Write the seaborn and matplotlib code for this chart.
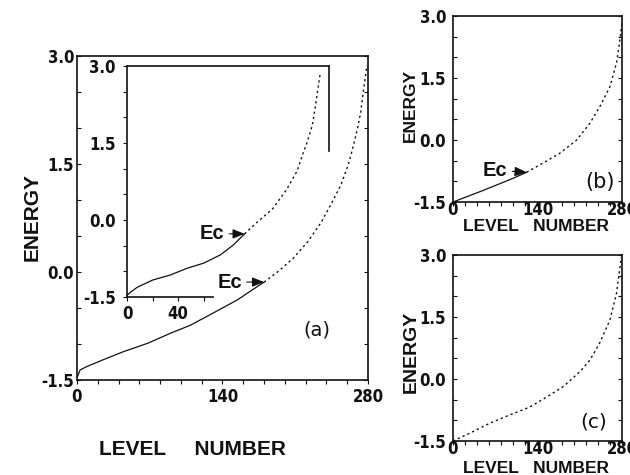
import matplotlib
matplotlib.use("Agg")
import matplotlib.pyplot as plt
import seaborn as sns
import pandas as pd
from matplotlib.ticker import MultipleLocator, FixedLocator

# (a) main spectrum: level number vs energy
levels_a = [0, 3, 10, 25, 44, 68, 90, 109, 131, 154, 180, 193, 208, 222, 235, 244, 254, 261, 265, 270, 273, 276, 279]
energy_a = [-1.47, -1.36, -1.31, -1.22, -1.11, -0.99, -0.85, -0.74, -0.57, -0.39, -0.14, 0.0, 0.19, 0.42,
            0.69, 0.93, 1.21, 1.49, 1.70, 2.00, 2.22, 2.56, 2.87]
# (a) inset spectrum
levels_in = [0, 2, 8, 20, 34, 47, 60, 73, 83, 92, 101, 114, 125, 133, 137, 141, 145, 147, 149, 151]
energy_in = [-1.47, -1.42, -1.31, -1.17, -1.07, -0.94, -0.84, -0.68, -0.49, -0.27, -0.06, 0.22, 0.60, 0.95,
             1.25, 1.52, 1.85, 2.15, 2.50, 2.83]
# (b)
levels_b = [0, 50, 99, 122, 149, 177, 205, 227, 243, 260, 271, 276, 280]
energy_b = [-1.5, -1.22, -0.93, -0.78, -0.56, -0.32, 0.0, 0.41, 0.80, 1.29, 1.87, 2.36, 2.85]
# (c)
levels_c = [0, 28, 61, 94, 127, 155, 182, 197, 213, 227, 243, 260, 271, 276, 279]
energy_c = [-1.5, -1.31, -1.07, -0.87, -0.68, -0.44, -0.19, 0.0, 0.22, 0.46, 0.87, 1.43, 2.08, 2.64, 2.95]

# mobility edge Ec (level numbers, taken from the lists above)
ec_a = 180
ec_in = 92
ec_b = 122

energy_ticks = [-1.5, 0.0, 1.5, 3.0]
energy_ticklabels = ["-1.5", "0.0", "1.5", "3.0"]
level_ticks = [0, 140, 280]
inset_level_ticks = [0, 40]

sns.set_style("ticks")
plt.rcParams["font.family"] = ["DejaVu Sans Condensed", "DejaVu Sans"]
plt.rcParams["font.stretch"] = "condensed"
plt.rcParams["font.weight"] = "bold"

label_font = "Liberation Sans"
ink = "#111111"


def draw_curve(ax, levels, energy, split):
    # dense levels look like a solid line, sparse ones like a row of dashes
    df = pd.DataFrame({"level": levels, "energy": energy})
    if split > 0:
        sns.lineplot(data=df[df["level"] <= split], x="level", y="energy", ax=ax,
                     color=ink, lw=0.9, estimator=None, sort=True)
    sns.lineplot(data=df[df["level"] >= split], x="level", y="energy", ax=ax,
                 color=ink, lw=1.0, linestyle=(0, (1.6, 2.2)), estimator=None, sort=True)


def style_axes(ax, xmax, xticks, ylab_pad=2, xlab_pad=3, ydir="in"):
    ax.set_xlim(0, xmax)
    ax.set_ylim(-1.5, 3.0)
    ax.set_xticks(xticks, [str(t) for t in xticks])
    ax.set_yticks(energy_ticks, energy_ticklabels)
    ax.xaxis.set_minor_locator(MultipleLocator(20))
    ax.yaxis.set_minor_locator(MultipleLocator(0.5))
    ax.tick_params(axis="x", which="both", direction="out", length=3, width=0.8, pad=xlab_pad,
                   labelsize=12, colors=ink)
    ax.tick_params(axis="y", which="both", direction=ydir, length=3, width=0.8, pad=ylab_pad,
                   labelsize=12, colors=ink, right=(ydir == "in"))
    for s in ax.spines.values():
        s.set_linewidth(1.2)
        s.set_color(ink)
    ax.set_xlabel("")
    ax.set_ylabel("")


def ec_arrow(ax, level, energy, dx, dy=0):
    ax.annotate("Ec", xy=(level, energy), xytext=(dx, dy),
                textcoords="offset pixels", ha="right", va="center", fontsize=14.5,
                family=label_font, fontweight="bold", fontstretch="normal", color=ink,
                arrowprops=dict(arrowstyle="-|>,head_length=0.5,head_width=0.2", color=ink,
                                lw=0.8, shrinkA=1, shrinkB=0))


def panel_tag(ax, x, y, s, size):
    ax.text(x, y, s, transform=ax.transAxes, ha="center", va="center", fontsize=size,
            fontweight="normal", fontstretch="normal", family="DejaVu Sans", color=ink)


def big_label(x, y, s, size, rot=0):
    fig.text(x, y, s, rotation=rot, ha="center", va="center", fontsize=size,
             family=label_font, fontweight="bold", fontstretch="normal", color=ink)


fig = plt.figure(figsize=(6.3, 4.75), dpi=100)

# ---- panel (a)
ax_a = fig.add_axes([0.1222, 0.2, 0.4619, 0.6821])
draw_curve(ax_a, levels_a, energy_a, ec_a)
style_axes(ax_a, 280, level_ticks)
panel_tag(ax_a, 0.825, 0.154, "(a)", 14)
ec_arrow(ax_a, ec_a, energy_a[levels_a.index(ec_a)], -22)

# inset
ax_in = fig.add_axes([0.2016, 0.3747, 0.3206, 0.4864])
ax_in.patch.set_alpha(0)
draw_curve(ax_in, levels_in, energy_in, ec_in)
style_axes(ax_in, 158, inset_level_ticks, ylab_pad=5, ydir="out")
ax_in.xaxis.set_minor_locator(FixedLocator([20, 60]))
ax_in.spines["bottom"].set_bounds(0, 67)
ax_in.spines["right"].set_bounds(1.35, 3.0)
ec_arrow(ax_in, ec_in, energy_in[levels_in.index(ec_in)], -20)

big_label(0.051, 0.543, "ENERGY", 15, rot=90)
big_label(0.306, 0.053, "LEVEL     NUMBER", 15)

# ---- panel (b)
ax_b = fig.add_axes([0.719, 0.5747, 0.2683, 0.3916])
draw_curve(ax_b, levels_b, energy_b, ec_b)
style_axes(ax_b, 280, level_ticks, ylab_pad=5, xlab_pad=-4)
panel_tag(ax_b, 0.87, 0.11, "(b)", 15)
ec_arrow(ax_b, ec_b, energy_b[levels_b.index(ec_b)], -19, 2)
big_label(0.652, 0.779, "ENERGY", 12.5, rot=90)
big_label(0.851, 0.523, "LEVEL   NUMBER", 12.5)

# ---- panel (c)
ax_c = fig.add_axes([0.719, 0.0716, 0.2683, 0.3916])
draw_curve(ax_c, levels_c, energy_c, 0)
style_axes(ax_c, 280, level_ticks, ylab_pad=5, xlab_pad=-4)
panel_tag(ax_c, 0.83, 0.10, "(c)", 14.5)
big_label(0.652, 0.259, "ENERGY", 14, rot=90)
big_label(0.851, 0.013, "LEVEL   NUMBER", 12.5)

fig.savefig("out.png", dpi=100, facecolor="white")
